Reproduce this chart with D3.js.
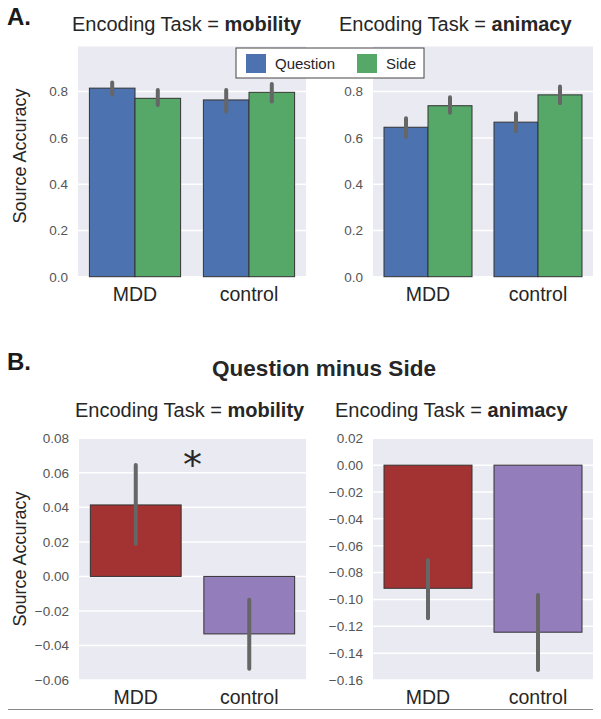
<!doctype html>
<html>
<head>
<meta charset="utf-8">
<script src="https://d3js.org/d3.v7.min.js"></script>
<style>
  body { margin: 0; background: #fff; }
  text { font-family: "Liberation Sans", Arial, sans-serif; }
</style>
</head>
<body>
<svg id="chart" width="601" height="719"></svg>
<script>
// ---- data ----
var groups = ["MDD", "control"];
var conditions = ["Question", "Side"];

// panel A: mean source accuracy, [low, high] 95% CI
var mobilityMeans = { MDD: [0.815, 0.771], control: [0.764, 0.797] };
var mobilityCI = { MDD: [[0.786, 0.839], [0.742, 0.807]], control: [[0.714, 0.807], [0.757, 0.833]] };
var animacyMeans = { MDD: [0.646, 0.739], control: [0.668, 0.786] };
var animacyCI = { MDD: [[0.605, 0.685], [0.709, 0.776]], control: [[0.630, 0.707], [0.750, 0.822]] };
var accuracyTicks = [0.0, 0.2, 0.4, 0.6, 0.8];

// panel B: question minus side
var diffMobility = [0.0414, -0.0333];
var diffMobilityCI = [[0.0189, 0.0646], [-0.0535, -0.0135]];
var diffAnimacy = [-0.0917, -0.1244];
var diffAnimacyCI = [[-0.114, -0.0706], [-0.1525, -0.0967]];
var diffMobilityTicks = [-0.06, -0.04, -0.02, 0.00, 0.02, 0.04, 0.06, 0.08];
var diffAnimacyTicks = [-0.16, -0.14, -0.12, -0.10, -0.08, -0.06, -0.04, -0.02, 0.00, 0.02];

var condColors = ["#4C72B0", "#55A868"];
var groupColors = ["#A33232", "#947DBB"];

var svg = d3.select("#chart");

function minusFmt(f) {
  return function(d) { return f(d).replace("-", "\u2212"); };
}

function panel(opts) {
  var g = svg.append("g");
  var x = d3.scaleBand().domain(groups).range([opts.left, opts.right]);
  var y = d3.scaleLinear().domain(opts.domain).range([opts.bottom, opts.top]);

  g.append("rect")
    .attr("x", opts.left).attr("y", opts.top)
    .attr("width", opts.right - opts.left).attr("height", opts.bottom - opts.top)
    .attr("fill", "#EAEAF2");

  g.selectAll(".grid").data(opts.ticks).enter().append("line")
    .attr("x1", opts.left).attr("x2", opts.right)
    .attr("y1", d => y(d)).attr("y2", d => y(d))
    .attr("stroke", "#fff").attr("stroke-width", 1.5);

  var yAxis = g.append("g")
    .attr("transform", "translate(" + opts.left + ",0)")
    .call(d3.axisLeft(y).tickValues(opts.ticks).tickFormat(minusFmt(d3.format(opts.fmt))).tickSize(0).tickPadding(10));
  yAxis.select(".domain").remove();
  yAxis.selectAll("text").attr("font-size", 13.5).attr("fill", "#555")
    .style("font-family", "'Liberation Sans', Arial, sans-serif");

  var xAxis = g.append("g")
    .attr("transform", "translate(0," + opts.bottom + ")")
    .call(d3.axisBottom(x).tickSize(0).tickPadding(10));
  xAxis.select(".domain").remove();
  xAxis.selectAll("text").attr("font-size", 19.5).attr("fill", "#262626")
    .style("font-family", "'Liberation Sans', Arial, sans-serif");

  return { g: g, x: x, y: y };
}

function errBar(g, cx, y, ci) {
  g.append("line")
    .attr("x1", cx).attr("x2", cx)
    .attr("y1", y(ci[0])).attr("y2", y(ci[1]))
    .attr("stroke", "#666").attr("stroke-width", 4).attr("stroke-linecap", "round");
}

function groupedPanel(opts, means, ci) {
  var p = panel(opts);
  var inner = d3.scaleBand().domain(conditions).range([0, p.x.bandwidth() * 0.8]);
  groups.forEach(function(grp) {
    var x0 = p.x(grp) + p.x.bandwidth() * 0.1;
    conditions.forEach(function(c, i) {
      var v = means[grp][i];
      p.g.append("rect")
        .attr("x", x0 + inner(c)).attr("width", inner.bandwidth())
        .attr("y", p.y(v)).attr("height", p.y(0) - p.y(v))
        .attr("fill", condColors[i]).attr("stroke", "#333").attr("stroke-width", 1);
    });
    conditions.forEach(function(c, i) {
      errBar(p.g, x0 + inner(c) + inner.bandwidth() / 2, p.y, ci[grp][i]);
    });
  });
  return p;
}

function diffPanel(opts, vals, ci) {
  var p = panel(opts);
  var w = p.x.bandwidth() * 0.8;
  groups.forEach(function(grp, i) {
    var v = vals[i];
    var x0 = p.x(grp) + p.x.bandwidth() * 0.1;
    p.g.append("rect")
      .attr("x", x0).attr("width", w)
      .attr("y", Math.min(p.y(v), p.y(0))).attr("height", Math.abs(p.y(v) - p.y(0)))
      .attr("fill", groupColors[i]).attr("stroke", "#333").attr("stroke-width", 1);
    errBar(p.g, x0 + w / 2, p.y, ci[i]);
  });
  return p;
}

function facetTitle(x, y, label) {
  var t = svg.append("text").attr("x", x).attr("y", y).attr("font-size", 20).attr("fill", "#262626");
  t.append("tspan").text("Encoding Task = ");
  t.append("tspan").attr("font-weight", "bold").text(label);
}

function yLabel(cx, cy) {
  svg.append("text")
    .attr("transform", "translate(" + cx + "," + cy + ") rotate(-90)")
    .attr("text-anchor", "middle").attr("font-size", 18).attr("fill", "#262626")
    .text("Source Accuracy");
}

// ---- panel A ----
svg.append("text").attr("x", 7).attr("y", 25).attr("font-size", 24).attr("font-weight", "bold")
  .attr("fill", "#1a1a1a").text("A.");
facetTitle(72, 31, "mobility");
facetTitle(339, 31, "animacy");

groupedPanel({ left: 78, right: 306, top: 46.5, bottom: 276.7, domain: [0, 0.995], ticks: accuracyTicks, fmt: ".1f" },
  mobilityMeans, mobilityCI);
groupedPanel({ left: 373, right: 593, top: 46.5, bottom: 276.7, domain: [0, 0.995], ticks: accuracyTicks, fmt: ".1f" },
  animacyMeans, animacyCI);
yLabel(26, 156);

// legend
var leg = svg.append("g").attr("transform", "translate(236,48)");
leg.append("rect").attr("width", 188).attr("height", 30).attr("fill", "#fff").attr("stroke", "#444").attr("stroke-width", 1);
var legX = d3.scaleOrdinal().domain(conditions).range([10, 121]);
conditions.forEach(function(c, i) {
  leg.append("rect").attr("x", legX(c)).attr("y", 6).attr("width", 20).attr("height", 19).attr("fill", condColors[i]);
  leg.append("text").attr("x", legX(c) + 29).attr("y", 21).attr("font-size", 15).attr("fill", "#262626").text(c);
});

// ---- panel B ----
svg.append("text").attr("x", 7).attr("y", 370).attr("font-size", 24).attr("font-weight", "bold")
  .attr("fill", "#1a1a1a").text("B.");
svg.append("text").attr("x", 324).attr("y", 376).attr("text-anchor", "middle").attr("font-size", 22.5)
  .attr("font-weight", "bold").attr("fill", "#262626").text("Question minus Side");
facetTitle(75, 417, "mobility");
facetTitle(335, 417, "animacy");

var pb = diffPanel({ left: 79, right: 306, top: 438.3, bottom: 680, domain: [-0.06, 0.08], ticks: diffMobilityTicks, fmt: ".2f" },
  diffMobility, diffMobilityCI);
diffPanel({ left: 373, right: 593, top: 438.3, bottom: 680, domain: [-0.16, 0.02], ticks: diffAnimacyTicks, fmt: ".2f" },
  diffAnimacy, diffAnimacyCI);
yLabel(26, 559);

// significance marker
svg.append("text").attr("x", (pb.x("MDD") + pb.x("control") + pb.x.bandwidth()) / 2).attr("y", 478)
  .attr("text-anchor", "middle").attr("font-size", 38).attr("fill", "#262626")
  .style("font-family", "'DejaVu Sans', sans-serif").text("*");

// bottom rule
svg.append("line").attr("x1", 8).attr("x2", 593).attr("y1", 709.5).attr("y2", 709.5)
  .attr("stroke", "#888").attr("stroke-width", 1.2);
</script>
</body>
</html>
